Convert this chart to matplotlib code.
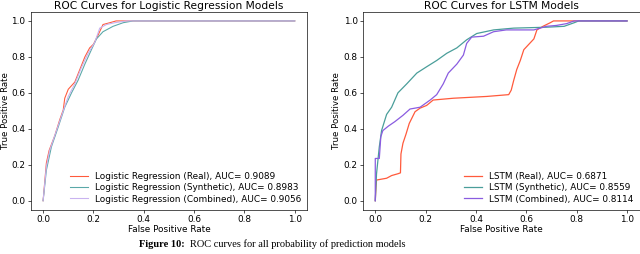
import matplotlib
matplotlib.use("Agg")
import matplotlib.pyplot as plt

# ---- data: Logistic Regression ROC points ----
lr_real_fpr = [0, 0.013, 0.024, 0.046, 0.066, 0.080, 0.086, 0.100, 0.126, 0.146, 0.166, 0.185, 0.200, 0.218, 0.238, 0.265, 0.290, 1.0]
lr_real_tpr = [0, 0.21, 0.28, 0.36, 0.45, 0.505, 0.57, 0.62, 0.66, 0.73, 0.80, 0.85, 0.87, 0.92, 0.98, 0.99, 1.0, 1.0]
lr_syn_fpr = [0, 0.013, 0.033, 0.060, 0.086, 0.113, 0.139, 0.166, 0.192, 0.212, 0.238, 0.278, 0.318, 0.357, 1.0]
lr_syn_tpr = [0, 0.17, 0.30, 0.41, 0.52, 0.60, 0.67, 0.76, 0.84, 0.90, 0.94, 0.97, 0.99, 1.0, 1.0]
lr_comb_fpr = [0, 0.013, 0.026, 0.053, 0.080, 0.100, 0.126, 0.152, 0.179, 0.205, 0.225, 0.252, 0.285, 0.331, 1.0]
lr_comb_tpr = [0, 0.19, 0.28, 0.39, 0.50, 0.58, 0.65, 0.74, 0.82, 0.88, 0.96, 0.98, 0.99, 1.0, 1.0]

# ---- data: LSTM ROC points ----
ls_real_fpr = [0, 0.003, 0.005, 0.045, 0.065, 0.090, 0.100, 0.102, 0.110, 0.122, 0.135, 0.158, 0.178, 0.204, 0.230, 0.310, 0.443, 0.530, 0.540, 0.550, 0.562, 0.576, 0.590, 0.610, 0.630, 0.642, 0.666, 0.695, 0.708, 1.0]
ls_real_tpr = [0, 0.08, 0.115, 0.125, 0.14, 0.15, 0.155, 0.26, 0.32, 0.37, 0.43, 0.495, 0.515, 0.53, 0.56, 0.57, 0.58, 0.59, 0.615, 0.67, 0.73, 0.78, 0.84, 0.87, 0.90, 0.95, 0.97, 0.99, 1.0, 1.0]
ls_syn_fpr = [0, 0.005, 0.016, 0.025, 0.045, 0.065, 0.090, 0.125, 0.165, 0.204, 0.244, 0.284, 0.324, 0.363, 0.403, 0.470, 0.550, 0.680, 0.750, 0.790, 0.808, 1.0]
ls_syn_tpr = [0, 0.15, 0.30, 0.39, 0.48, 0.52, 0.60, 0.65, 0.71, 0.745, 0.78, 0.82, 0.85, 0.895, 0.93, 0.95, 0.96, 0.965, 0.97, 0.99, 1.0, 1.0]
ls_comb_fpr = [0, 0, 0.016, 0.022, 0.030, 0.052, 0.078, 0.110, 0.138, 0.178, 0.218, 0.244, 0.270, 0.290, 0.324, 0.350, 0.363, 0.383, 0.430, 0.470, 0.520, 0.630, 0.680, 0.720, 0.760, 0.790, 1.0]
ls_comb_tpr = [0, 0.235, 0.235, 0.356, 0.39, 0.415, 0.44, 0.475, 0.51, 0.52, 0.56, 0.59, 0.65, 0.71, 0.76, 0.81, 0.875, 0.91, 0.915, 0.94, 0.95, 0.95, 0.97, 0.975, 0.985, 1.0, 1.0]

titles = ["ROC Curves for Logistic Regression Models", "ROC Curves for LSTM Models"]
lr_labels = ["Logistic Regression (Real), AUC= 0.9089",
             "Logistic Regression (Synthetic), AUC= 0.8983",
             "Logistic Regression (Combined), AUC= 0.9056"]
ls_labels = ["LSTM (Real), AUC= 0.6871",
             "LSTM (Synthetic), AUC= 0.8559",
             "LSTM (Combined), AUC= 0.8114"]
ticks = [0.0, 0.2, 0.4, 0.6, 0.8, 1.0]
caption_bold = "Figure 10:"
caption_rest = "ROC curves for all probability of prediction models"

fig = plt.figure(figsize=(640/60, 254/60), dpi=60)
ax1 = fig.add_axes([0.0477, 0.1744, 0.4325, 0.7786])
ax2 = fig.add_axes([0.5667, 0.1744, 0.4327, 0.7786])

red = "#ff5a3c"
teal = "#5aa8a8"
purple_l = "#c9b3f0"
teal2 = "#4a9e9a"
purple = "#8a5ce0"

ax1.plot(lr_real_fpr, lr_real_tpr, color=red, lw=1.3, label=lr_labels[0])
ax1.plot(lr_syn_fpr, lr_syn_tpr, color=teal, lw=1.3, label=lr_labels[1])
ax1.plot(lr_comb_fpr, lr_comb_tpr, color=purple_l, lw=1.3, label=lr_labels[2])

ax2.plot(ls_real_fpr, ls_real_tpr, color=red, lw=1.5, label=ls_labels[0])
ax2.plot(ls_syn_fpr, ls_syn_tpr, color=teal2, lw=1.5, label=ls_labels[1])
ax2.plot(ls_comb_fpr, ls_comb_tpr, color=purple, lw=1.5, label=ls_labels[2])

for ax, t, lx in zip([ax1, ax2], titles, [-0.074, -0.079]):
    ax.set_title(t, fontsize=12.7, pad=4)
    ax.set_xlabel("False Positive Rate", fontsize=10.6, labelpad=1)
    ax.set_ylabel("True Positive Rate", fontsize=10.4)
    ax.yaxis.set_label_coords(lx, 0.5)
    ax.set_xticks(ticks)
    ax.set_yticks(ticks)
    ax.set_xlim(-0.05, 1.05)
    ax.set_ylim(-0.05, 1.05)
    ax.tick_params(labelsize=10.6, pad=2.5)
    ax.legend(loc="lower right", frameon=False, fontsize=10.6, handlelength=2.0,
              borderaxespad=0.3, labelspacing=0.25)

t1 = fig.text(139/640, 0.02, caption_bold, ha="left", va="bottom",
              family="Liberation Serif", fontweight="bold", fontsize=12.5)
fig.canvas.draw()
bb = t1.get_window_extent()
fig.text((bb.x1 + 5) / 640, 0.02, caption_rest, ha="left", va="bottom",
         family="Liberation Serif", fontsize=12.5)

fig.savefig("out.png", dpi=60)
